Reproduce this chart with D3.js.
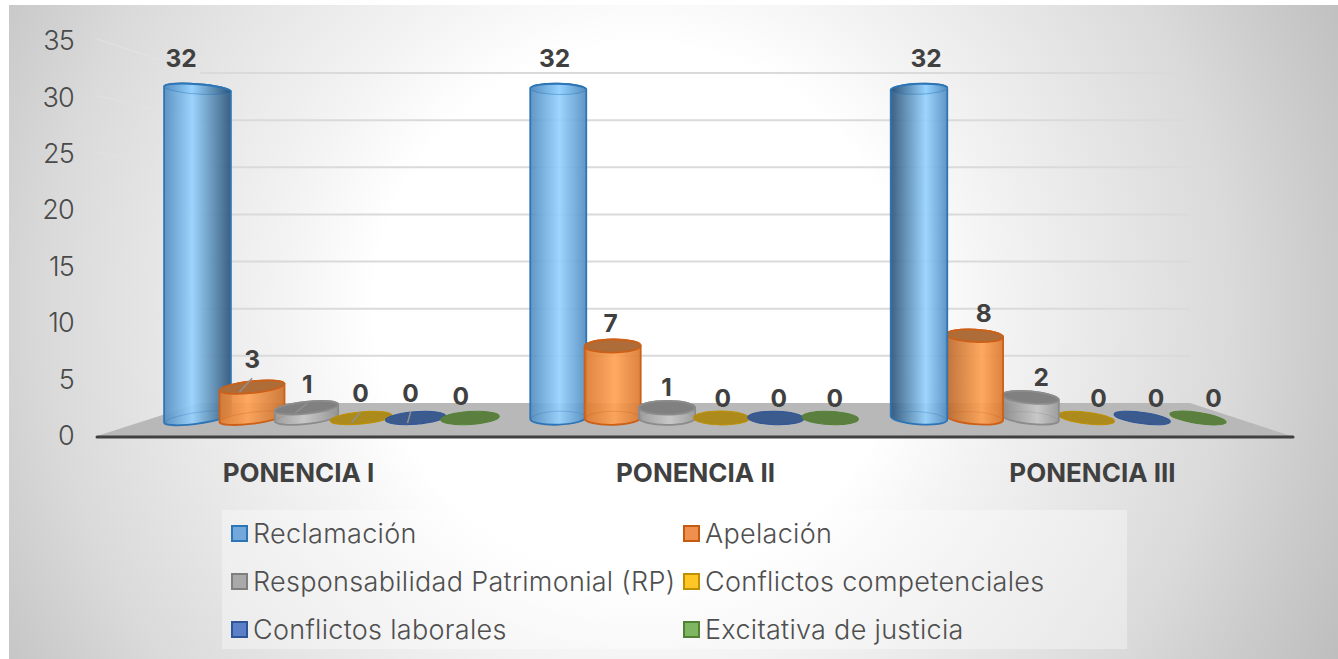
<!DOCTYPE html>
<html lang="es">
<head>
<meta charset="utf-8">
<title>Ponencias</title>
<script src="https://cdn.jsdelivr.net/npm/d3@7"></script>
<style>
  html, body { margin: 0; padding: 0; background: #fff; }
  svg { display: block; }
  text { font-family: Inter, Lato, sans-serif; }
</style>
</head>
<body>
<svg id="chart" width="1338" height="659"></svg>
<script>
const groups = ['PONENCIA I', 'PONENCIA II', 'PONENCIA III'];
const seriesNames = ['Reclamación', 'Apelación', 'Responsabilidad Patrimonial (RP)',
  'Conflictos competenciales', 'Conflictos laborales', 'Excitativa de justicia'];
const yTicks = [0, 5, 10, 15, 20, 25, 30, 35];

const reclamacion = [32, 32, 32];
const apelacion = [3, 7, 8];
const responsabilidad = [1, 1, 2];
const competenciales = [0, 0, 0];
const laborales = [0, 0, 0];
const excitativa = [0, 0, 0];
const seriesValues = [reclamacion, apelacion, responsabilidad, competenciales, laborales, excitativa];

// base, highlight, shadow, outline, cap
const seriesColors = [
  ['#69ace6', '#95d2ff', '#2c5478', '#2e75b6', '#66a9e2'],
  ['#ef8434', '#ffa254', '#8a4d20', '#cc6018', '#ae6c38'],
  ['#a5a5a5', '#c9c9c9', '#666666', '#8c8c8c', '#808080'],
  ['#c9a227', '#c9a227', '#8a6d10', '#bf9000', '#ac8a1c'],
  ['#44649c', '#44649c', '#2f4a78', '#2f5597', '#3b5a8e'],
  ['#628a46', '#628a46', '#42652c', '#548235', '#5a7f3f']
];
const swatchFill = ['#72a8dc', '#f0904f', '#a9a9a9', '#ffc726', '#5b80c8', '#7fb662'];
const swatchStroke = ['#2e75b6', '#c55a11', '#7f7f7f', '#bf9000', '#2f5597', '#548235'];

const svg = d3.select('#chart');
const defs = svg.append('defs');

// Background, white in the middle and grey to the corners
const bg = defs.append('radialGradient').attr('id', 'bg')
  .attr('gradientUnits', 'userSpaceOnUse')
  .attr('cx', 640).attr('cy', 310).attr('r', 800);
[[0.33, '#ffffff'], [0.45, '#f3f3f3'], [0.74, '#dadada'], [0.86, '#cbcbcb'], [1, '#bbbbbb']]
  .forEach(([o, c]) => bg.append('stop').attr('offset', o).attr('stop-color', c));

svg.append('rect').attr('x', 9).attr('y', 5).attr('width', 1329).attr('height', 654).attr('fill', 'url(#bg)');

// Scales: the front edge of the floor, the back wall and the bars all run differently
const yLabels = d3.scaleLinear().domain([0, 35]).range([436, 41]);
const ySide = d3.scaleLinear().domain([0, 35]).range([436, 39]);
const yWall = d3.scaleLinear().domain([0, 35]).range([403, 73]);
const yBar = d3.scaleLinear().domain([0, 35]).range([418, 58.2]);
const xAxisScale = d3.scaleBand().domain(groups).range([100, 1291]);
const xGroup = d3.scalePoint().domain(groups).range([197.5, 919]);
const seriesSpan = [272.5, 272, 279];
const rxScale = d3.scaleLinear().domain([197, 559, 1198]).range([33.5, 28, 28.5]);
const ryScale = d3.scaleLinear().domain([90, 418]).range([5.5, 7]);

// Side wall and back wall grid
const grid = svg.append('g');
yTicks.filter(d => d > 0).forEach(d => {
  grid.append('line')
    .attr('x1', 97).attr('y1', ySide(d)).attr('x2', 200).attr('y2', yWall(d))
    .attr('stroke', '#e4e4e4').attr('stroke-width', 1.5).attr('opacity', 0.1 + d / 70);
  grid.append('line')
    .attr('x1', 200).attr('y1', yWall(d)).attr('x2', 1190).attr('y2', yWall(d))
    .attr('stroke', '#dadada').attr('stroke-width', 2);
});

// Floor
svg.append('path')
  .attr('d', `M97,436 L200,${yWall(0)} L1190,${yWall(0)} L1291,436 Z`)
  .attr('fill', '#b8b8b8');

// Y axis
const yAxis = svg.append('g')
  .attr('transform', 'translate(74,0)')
  .call(d3.axisLeft(yLabels).tickValues(yTicks).tickSize(0).tickPadding(0));
yAxis.select('.domain').remove();
yAxis.selectAll('text').attr('font-size', 27).attr('font-weight', 300).attr('fill', '#4a4a4a')
  .attr('letter-spacing', -0.8).style('font-family', 'Inter, Lato, sans-serif');

// X axis
const xAxis = svg.append('g')
  .attr('transform', 'translate(0,436)')
  .call(d3.axisBottom(xAxisScale).tickSize(0).tickPadding(28));
xAxis.select('.domain').remove();
xAxis.selectAll('text').attr('font-size', 26).attr('font-weight', 700).attr('fill', '#404040')
  .style('font-family', 'Inter, Lato, sans-serif');
svg.append('line')
  .attr('x1', 97).attr('x2', 1293).attr('y1', 437).attr('y2', 437)
  .attr('stroke', '#404040').attr('stroke-width', 3).attr('stroke-linecap', 'round');

// The perspective tilts each ellipse depending on where it sits
function tiltAt(x, y) {
  return 7.8e-5 * (x - 680) * (y - 206);
}

const clamp01 = t => Math.max(0, Math.min(1, t));

function barGradient(id, cx, v, colors) {
  const [base, bright, dark] = colors;
  const f = 0.35 + 0.65 * v / 32;
  const left = clamp01((cx - 640) / 280) * f;
  const right = clamp01((640 - cx) / 440) * f;
  const mix = d3.interpolateRgb(base, dark);
  const peak = 0.52 + 0.1 * clamp01((cx - 559) / 360) - 0.1 * clamp01((559 - cx) / 360);
  const edge = 0.15 + 0.2 * v / 32;
  const grad = defs.append('linearGradient').attr('id', id);
  [[0, mix(Math.max(left, edge))], [peak, bright], [1, mix(Math.max(right, edge))]]
    .forEach(([o, c]) => grad.append('stop').attr('offset', o).attr('stop-color', c));
}

function drawBar(layer, id, cx, v, colors) {
  const outline = colors[3];
  const capFill = colors[4];
  const yTop = yBar(v), yBase = yBar(0);
  const rx = rxScale(cx);
  const tiltTop = tiltAt(cx, yTop), tiltBase = tiltAt(cx, yBase);
  const ryTop = ryScale(yTop) * (1 - Math.abs(tiltTop) / 40);
  const ryBase = ryScale(yBase) * (1 - Math.abs(tiltBase) / 40);

  if (v === 0) {
    layer.append('ellipse')
      .attr('rx', rx).attr('ry', ryBase)
      .attr('transform', `translate(${cx},${yBase}) rotate(${tiltBase})`)
      .attr('fill', capFill).attr('stroke', outline).attr('stroke-width', 1);
    return;
  }

  barGradient(id, cx, v, colors);
  const rad = a => a * Math.PI / 180;
  const tx = rx * Math.cos(rad(tiltTop)), ty = rx * Math.sin(rad(tiltTop));
  const bx = rx * Math.cos(rad(tiltBase)), by = rx * Math.sin(rad(tiltBase));
  const left = cx - Math.max(tx, bx), right = cx + Math.max(tx, bx);
  const tall = v > 20;

  layer.append('path')
    .attr('d', `M${left},${yTop - ty} L${left},${yBase - by}` +
      ` A${rx},${ryBase} ${tiltBase} 0 0 ${right},${yBase + by}` +
      ` L${right},${yTop + ty}` +
      ` A${rx},${ryTop} ${tiltTop} 0 0 ${left},${yTop - ty} Z`)
    .attr('fill', `url(#${id})`).attr('fill-opacity', 0.92)
    .attr('stroke', outline).attr('stroke-width', 1.8);

  // Back rim of the base shows through the body
  layer.append('ellipse')
    .attr('rx', rx - 1).attr('ry', ryBase)
    .attr('transform', `translate(${cx},${yBase}) rotate(${tiltBase})`)
    .attr('fill', 'none').attr('stroke', outline).attr('stroke-width', 1).attr('opacity', 0.3);

  // Tall bars have a see-through top, short ones a solid darker one
  layer.append('ellipse')
    .attr('rx', rx).attr('ry', ryTop)
    .attr('transform', `translate(${cx},${yTop}) rotate(${tiltTop})`)
    .attr('fill', tall ? `url(#${id})` : capFill)
    .attr('stroke', outline).attr('stroke-width', tall ? 1 : 1.8)
    .attr('stroke-opacity', tall ? 0.45 : 1);
  if (tall) {
    layer.append('path')
      .attr('d', `M${cx - tx},${yTop - ty} A${rx},${ryTop} ${tiltTop} 0 1 ${cx + tx},${yTop + ty}`)
      .attr('fill', 'none').attr('stroke', outline).attr('stroke-width', 2);
  }
}

// Labels in the first group were moved by hand and have leader lines
const labelNudgeX = [[-2, 13, 12, 9, 3, -3], [0, 0, 0, 0, 0, 0], [0, 0, 0, 0, 0, 0]];
const labelNudgeY = [[0, -7, -3, -5, -5, -2], [0, 0, 0, 0, 0, 0], [0, 0, 0, 0, 0, 0]];
const leaderSeries = [1, 2, 3, 4];

const barsLayer = svg.append('g');
const labelsLayer = svg.append('g');

groups.forEach((group, g) => {
  const xSeries = d3.scalePoint().domain(seriesNames).range([0, seriesSpan[g]]);
  // painter's order: bars nearer the outer edge go on top on the left, under on the right
  const order = g === 2 ? seriesNames.map((_, i) => 5 - i) : seriesNames.map((_, i) => i);
  order.forEach(s => {
    const v = seriesValues[s][g];
    const cx = xGroup(group) + xSeries(seriesNames[s]);
    drawBar(barsLayer, `bar-${g}-${s}`, cx, v, seriesColors[s]);

    const lx = cx + (cx - 680) * 0.03 + labelNudgeX[g][s];
    const ly = yBar(v) - 20 - 0.34 * v + labelNudgeY[g][s];
    labelsLayer.append('text')
      .attr('x', lx).attr('y', ly)
      .attr('text-anchor', 'middle').attr('dy', '0.36em')
      .attr('font-size', 24.5).attr('font-weight', 700).attr('fill', '#404040')
      .text(v);

    if (g === 0 && leaderSeries.includes(s)) {
      labelsLayer.append('line')
        .attr('x1', lx).attr('y1', ly + 19)
        .attr('x2', cx + (cx - 680) * 0.03).attr('y2', yBar(v) + 5)
        .attr('stroke', '#909090').attr('stroke-width', 1.5);
    }
  });
});

// Legend
const legend = svg.append('g');
legend.append('rect')
  .attr('x', 222).attr('y', 510).attr('width', 905).attr('height', 139)
  .attr('fill', '#ffffff').attr('fill-opacity', 0.35);

const legendX = d3.scalePoint().domain([0, 1]).range([231, 683]);
const legendY = d3.scalePoint().domain([0, 1, 2]).range([533, 629]);

const legendItem = legend.selectAll('g.item')
  .data(seriesNames)
  .join('g')
  .attr('class', 'item')
  .attr('transform', (d, i) => `translate(${legendX(i % 2)},${legendY(Math.floor(i / 2))})`);

legendItem.append('rect')
  .attr('x', 1).attr('y', -7).attr('width', 15).attr('height', 15)
  .attr('fill', (d, i) => swatchFill[i])
  .attr('stroke', (d, i) => swatchStroke[i])
  .attr('stroke-width', 2);

legendItem.append('text')
  .attr('x', 22).attr('dy', '0.36em')
  .attr('font-size', 27).attr('font-weight', 300).attr('fill', '#4f4f4f')
  .attr('letter-spacing', 0.3)
  .text(d => d);
</script>
</body>
</html>
